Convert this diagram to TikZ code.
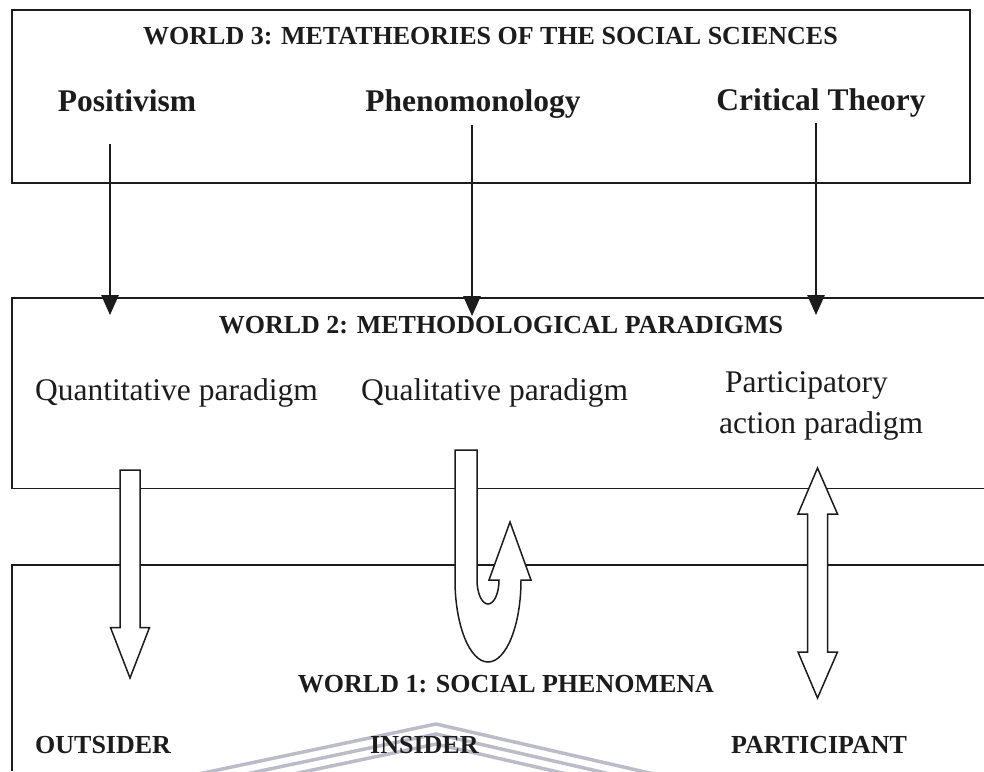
\documentclass[tikz,border=0pt]{standalone}
\usepackage{fontspec}
\setmainfont{Liberation Serif}
\usetikzlibrary{arrows.meta}
\definecolor{ink}{HTML}{1C1C1C}
\definecolor{seal}{RGB}{172,172,188}
\begin{document}
\begin{tikzpicture}[x=1pt,y=-1pt,
  frame/.style={draw=ink,line width=1.7pt},
  link/.style={draw=ink,line width=1.4pt,-{Triangle[width=17.5pt,length=20pt]}},
  hollow/.style={draw=ink,line width=1.5pt,fill=white,line join=miter},
  heading/.style={inner sep=0pt,anchor=base,text=ink,font=\bfseries\fontsize{26}{30}\selectfont},
  theory/.style={inner sep=0pt,anchor=base,text=ink,font=\bfseries\fontsize{31.5}{36}\selectfont},
  paradigm/.style={inner sep=0pt,anchor=base west,text=ink,font=\fontsize{31.5}{36}\selectfont},
  role/.style={inner sep=0pt,anchor=base west,text=ink,font=\bfseries\fontsize{26}{30}\selectfont},
  sealline/.style={draw=seal,line width=3.5pt,opacity=0.8}]
\useasboundingbox (0,0) rectangle (984,771);
\fill[white] (0,0) rectangle (984,771);

% faint chevron stripes near the lower edge
\begin{scope}
  \clip (0,0) rectangle (984,771);
  \foreach \d in {0,10,20}
    \draw[sealline] (170,780+\d) -- (436,724+\d) -- (680,780+\d);
\end{scope}

% World 3 box
\draw[frame] (12,10) rectangle (970,183);
% World 2 band (open to the right)
\draw[frame] (984,298) -- (12,298) -- (12,488.5) -- (984,488.5);
% World 1 band (open to the right and below)
\draw[frame] (984,565) -- (12,565) -- (12,771);

% texts of World 3
\node[heading] (w3title) at (490.5,44) {WORLD 3: METATHEORIES OF THE SOCIAL SCIENCES};
\node[theory] (positivism) at (127,111) {Positivism};
\node[theory] (phenom) at (473,111) {Phenomonology};
\node[theory] (critical) at (821,110) {Critical Theory};

% texts of World 2
\node[heading] (w2title) at (501,333) {WORLD 2: METHODOLOGICAL PARADIGMS};
\node[paradigm] (quant) at (35,400) {Quantitative paradigm};
\node[paradigm] (qual) at (361,400) {Qualitative paradigm};
\node[paradigm] (partA) at (725,392) {Participatory};
\node[paradigm] (partB) at (719,433) {action paradigm};

% texts of World 1
\node[heading] (w1title) at (506,692) {WORLD 1: SOCIAL PHENOMENA};
\node[role] (outsider) at (35,753) {OUTSIDER};
\node[role] (insider) at (370,753) {INSIDER};
\node[role] (participant) at (731,753) {PARTICIPANT};

% metatheory to paradigm connectors
\coordinate (posA) at (110,144);
\coordinate (posB) at (110,315);
\coordinate (phenA) at (472,125);
\coordinate (phenB) at (472,316);
\coordinate (critA) at (816,123);
\coordinate (critB) at (816,315);
\draw[link] (posA) -- (posB);
\draw[link] (phenA) -- (phenB);
\draw[link] (critA) -- (critB);

% outsider: one-way block arrow down
\draw[hollow] (120,470) -- (140,470) -- (140,627.5) -- (149.5,627.5)
  -- (130,678) -- (110.5,627.5) -- (120,627.5) -- cycle;

% insider: block arrow that turns back up
\draw[hollow] (455,450) -- (455,580)
  .. controls (455,625.3) and (469.8,662) .. (488,662)
  .. controls (506.2,662) and (521,625.3) .. (521,580)
  -- (531,580) -- (510,522) -- (489,580) -- (499,580)
  .. controls (499,593.3) and (494.1,604) .. (488,604)
  .. controls (481.9,604) and (477,593.3) .. (477,580)
  -- (477,450) -- cycle;

% participant: two-way block arrow
\draw[hollow] (817.5,468) -- (837.5,514) -- (827.7,514) -- (827.7,652)
  -- (837.5,652) -- (817.5,698) -- (798,652) -- (807.7,652)
  -- (807.7,514) -- (798,514) -- cycle;
\end{tikzpicture}
\end{document}
